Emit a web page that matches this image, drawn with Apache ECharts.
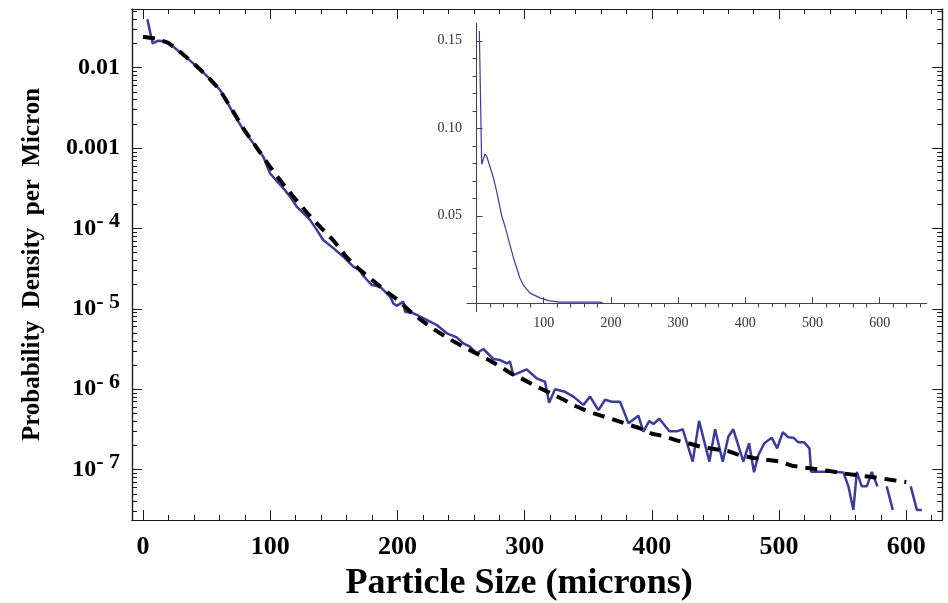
<!DOCTYPE html>
<html>
<head>
<meta charset="utf-8">
<script src="https://cdn.jsdelivr.net/npm/echarts@6/dist/echarts.min.js"></script>
<style>
  html, body { margin: 0; padding: 0; background: #fff; }
  #chart { width: 948px; height: 603px; }
</style>
</head>
<body>
<div id="chart"></div>
<script>
// measured histogram (main panel, log scale); null = empty bin
var sizeMain = [3.4, 7.6, 12, 17.3, 23.8, 31.7, 39.5, 47.4, 54, 60.5, 64.5, 71, 78.9, 86.7, 94.6, 99.8,
  110.3, 115.6, 120.8, 126, 131.3, 136.6, 141.7, 149.6, 157.5, 165.3, 170.6, 172.5, 179.8, 186.3, 194.2, 196.8,
  199.4, 204.6, 206, 212.5, 215.2, 223, 230.9, 238.8, 246.6, 251.8, 257, 262.3, 267.5, 275.4, 280.7, 285.9,
  288.5, 291.1, 301.6, 309.4, 316, 319.2, 323.9, 331.8, 338.3, 346.2, 351.4, 358, 363.2, 368.5, 375, 377.6,
  381.6, 389.4, 393.3, 398, 401.2, 405.9, 413.8, 419.6, 424.3, 432.1, 437.1, 445.2, 449.7, 455.7, 460.1, 464,
  471.9, 476.4, 480.3, 483.7, 488.4, 494.2, 498.5, 502.9, 507.3, 511.2, 515.2, 519.7, 523.9, 525.2, 540.1, 550.6,
  554.5, 558.4, 561.1, 565, 569, 572.9, 577.3, 581, 584.6, 589.4, 595, 603.5, 608.3, 612.2];
var densityMain = [0.040, 0.020, 0.0217, 0.0213, 0.0182, 0.0144, 0.0113, 0.00867, 0.00689, 0.00528, 0.00416, 0.00271, 0.00168, 0.00115, 0.00078, 0.000486,
  0.000316, 0.000249, 0.000187, 0.000155, 0.000128, 0.000096, 0.000072, 0.000057, 0.0000446, 0.0000335, 0.0000305, 0.0000265, 0.0000198, 0.0000189, 0.0000142, 0.0000117,
  0.0000109, 0.0000123, 0.0000092, 0.0000088, 0.0000084, 0.0000073, 0.0000063, 0.00000497, 0.00000443, 0.00000373, 0.00000339, 0.0000028, 0.00000317, 0.00000238, 0.00000231, 0.0000021,
  0.0000022, 0.0000015, 0.00000177, 0.00000137, 0.00000124, 0.00000068, 0.000001, 0.00000093, 0.00000081, 0.00000064, 0.00000081, 0.00000055, 0.00000074, 0.0000007, 0.0000007, 0.00000055,
  0.000000378, 0.00000047, 0.000000297, 0.000000404, 0.00000037, 0.00000043, 0.0000003, 0.0000003, 0.000000318, 0.000000126, 0.000000404, 0.000000126, 0.000000318, 0.000000126, 0.000000257, 0.000000318,
  0.000000126, 0.000000213, 0.000000093, 0.000000152, 0.000000213, 0.00000025, 0.000000184, 0.000000292, 0.000000253, 0.00000025, 0.000000219, 0.000000219, 0.000000184, 0.000000094, 0.000000094, 0.000000092,
  0.000000062, 0.0000000316, 0.000000094, 0.000000062, 0.000000062, 0.000000094, 0.000000062, null, 0.000000062, 0.0000000316, null, 0.000000062, 0.0000000316, 0.0000000316];

// fitted curve (dashed)
var sizeFit = [0, 10, 20, 30, 40, 50, 60, 70, 80, 90, 100, 110, 120, 130, 140, 150, 160, 170, 180, 190, 200,
  210, 220, 230, 240, 250, 260, 270, 280, 290, 300, 310, 320, 330, 340, 350, 360, 370, 380, 390, 400,
  410, 420, 430, 440, 450, 460, 470, 480, 490, 500, 510, 520, 530, 540, 550, 560, 570, 580, 590, 600];
var densityFit = [0.0243, 0.0230, 0.0203, 0.0153, 0.0112, 0.0080, 0.0054, 0.0030, 0.00165, 0.00098, 0.00058,
  0.00036, 0.00023, 0.000150, 0.000102, 0.000070, 0.000044, 0.000031, 0.000023, 0.0000170, 0.0000130,
  0.0000093, 0.0000070, 0.0000054, 0.0000043, 0.0000035, 0.0000029, 0.0000024, 0.00000195, 0.00000155, 0.0000013,
  0.00000107, 0.0000009, 0.00000075, 0.00000062, 0.00000053, 0.00000047, 0.00000042, 0.00000037, 0.00000033, 0.00000028,
  0.00000026, 0.00000023, 0.00000021, 0.00000019, 0.00000018, 0.00000017, 0.00000015, 0.00000014, 0.000000133, 0.000000127,
  0.000000112, 0.000000106, 0.000000101, 0.000000096, 0.00000009, 0.000000086, 0.000000082, 0.000000078, 0.000000074, 0.00000007];

// inset, linear scale
var sizeInset = [4.2, 7.7, 12.6, 15.2, 17.6, 25, 30, 37.5, 42.4, 54.8, 64.7, 69.7, 79.6, 82.1, 94.5, 99.4, 106.8, 124, 183.8, 188.7];
var densityInset = [0.1556, 0.0794, 0.0853, 0.0840, 0.0832, 0.0720, 0.0640, 0.0500, 0.0440, 0.0262, 0.0143, 0.0104, 0.0058, 0.0051, 0.0031, 0.0025, 0.0015, 0.0007, 0.0007, 0];

// ticks
var xMajor = [0, 100, 200, 300, 400, 500, 600];
var xMinor = [20, 40, 60, 80, 120, 140, 160, 180, 220, 240, 260, 280, 320, 340, 360, 380, 420, 440, 460, 480, 520, 540, 560, 580, 620];
var yMajor = [1e-7, 1e-6, 1e-5, 1e-4, 1e-3, 1e-2];
var yMinor = [3e-8, 4e-8, 5e-8, 6e-8, 7e-8, 8e-8, 9e-8,
  2e-7, 3e-7, 4e-7, 5e-7, 6e-7, 7e-7, 8e-7, 9e-7,
  2e-6, 3e-6, 4e-6, 5e-6, 6e-6, 7e-6, 8e-6, 9e-6,
  2e-5, 3e-5, 4e-5, 5e-5, 6e-5, 7e-5, 8e-5, 9e-5,
  2e-4, 3e-4, 4e-4, 5e-4, 6e-4, 7e-4, 8e-4, 9e-4,
  2e-3, 3e-3, 4e-3, 5e-3, 6e-3, 7e-3, 8e-3, 9e-3,
  2e-2, 3e-2, 4e-2, 5e-2];
var insetXLabels = [100, 200, 300, 400, 500, 600];
var insetXMajor = [0, 100, 200, 300, 400, 500, 600];
var insetXMinor = [20, 40, 60, 80, 120, 140, 160, 180, 220, 240, 260, 280, 320, 340, 360, 380, 420, 440, 460, 480, 520, 540, 560, 580, 620, 640, 660];
var insetYMajor = [0.05, 0.10, 0.15];
var insetYMinor = [0.01, 0.02, 0.03, 0.04, 0.06, 0.07, 0.08, 0.09, 0.11, 0.12, 0.13, 0.14];

var serif = 'Liberation Serif';
var frame = '#1a1a1a';
var blue = '#3c3c9c';

function pairs(xs, ys) {
  return xs.map(function (x, i) { return [x, ys[i] == null ? '-' : ys[i]]; });
}

function yLabel(v) {
  var e = Math.round(Math.log10(v));
  if (e === -2) return '0.01';
  if (e === -3) return '0.001';
  return '10{sup|- ' + (-e) + '}';
}

function mainX(pos, ticks, len, labels) {
  return {
    gridIndex: 0, type: 'value', position: pos, min: -8.65, max: 628.3,
    axisLine: { onZero: false, lineStyle: { color: frame, width: 1.2 } },
    splitLine: { show: false },
    axisTick: { inside: true, length: len, customValues: ticks, lineStyle: { color: frame, width: 1 } },
    axisLabel: labels ? {
      customValues: xMajor, margin: 14, color: '#000',
      fontFamily: serif, fontWeight: 'bold', fontSize: 26
    } : { show: false }
  };
}

function mainY(pos, ticks, len, labels) {
  return {
    gridIndex: 0, type: 'log', logBase: 10, position: pos, min: 2.366e-8, max: 0.0537,
    axisLine: { onZero: false, lineStyle: { color: frame, width: 1.2 } },
    splitLine: { show: false }, minorTick: { show: false },
    axisTick: { inside: true, length: len, customValues: ticks, lineStyle: { color: frame, width: 1 } },
    axisLabel: labels ? {
      customValues: yMajor, margin: 12, color: '#000', formatter: yLabel,
      fontFamily: serif, fontWeight: 'bold', fontSize: 24,
      rich: { sup: { fontFamily: serif, fontWeight: 'bold', fontSize: 22, padding: [0, 0, 14, 0] } }
    } : { show: false }
  };
}

var insetText = { fontFamily: serif, fontSize: 14, color: '#333' };

var chart = echarts.init(document.getElementById('chart'));
chart.setOption({
  animation: false,
  backgroundColor: '#fff',
  grid: [
    { left: 132, top: 9, right: 5.7, bottom: 83, outerBoundsMode: 'none', containLabel: false },
    { left: 467.1, top: 23.3, width: 459.6, height: 288.4, outerBoundsMode: 'none', containLabel: false }
  ],
  xAxis: [
    Object.assign(mainX('bottom', xMajor, 10, true), {
      name: 'Particle Size (microns)', nameLocation: 'middle', nameGap: 46,
      nameTextStyle: { fontFamily: serif, fontWeight: 'bold', fontSize: 36, color: '#000', padding: [0, 36, 0, 0] }
    }),
    mainX('bottom', xMinor, 5, false),
    mainX('top', xMajor, 10, false),
    mainX('top', xMinor, 5, false),
    {
      gridIndex: 1, type: 'value', min: -14, max: 670,
      axisLine: { onZero: true, lineStyle: { color: '#444', width: 1 } },
      splitLine: { show: false },
      axisTick: { inside: true, length: 6, customValues: insetXMajor, lineStyle: { color: '#444' } },
      axisLabel: Object.assign({ customValues: insetXLabels, margin: 5 }, insetText)
    },
    {
      gridIndex: 1, type: 'value', min: -14, max: 670,
      axisLine: { onZero: true, lineStyle: { color: '#444', width: 1 } },
      splitLine: { show: false },
      axisTick: { inside: true, length: 4, customValues: insetXMinor, lineStyle: { color: '#444' } },
      axisLabel: { show: false }
    }
  ],
  yAxis: [
    Object.assign(mainY('left', yMajor, 10, true), {
      name: 'Probability  Density  per  Micron', nameLocation: 'middle', nameGap: 87,
      nameTextStyle: { fontFamily: serif, fontWeight: 'bold', fontSize: 25, color: '#000' }
    }),
    mainY('left', yMinor, 5, false),
    mainY('right', yMajor, 10, false),
    mainY('right', yMinor, 5, false),
    {
      gridIndex: 1, type: 'value', min: -0.0048, max: 0.160,
      axisLine: { onZero: true, lineStyle: { color: '#444', width: 1 } },
      splitLine: { show: false },
      axisTick: { inside: true, length: 6, customValues: insetYMajor, lineStyle: { color: '#444' } },
      axisLabel: Object.assign({
        customValues: insetYMajor, margin: 5,
        formatter: function (v) { return v.toFixed(2); }
      }, insetText)
    },
    {
      gridIndex: 1, type: 'value', min: -0.0048, max: 0.160,
      axisLine: { onZero: true, lineStyle: { color: '#444', width: 1 } },
      splitLine: { show: false },
      axisTick: { inside: true, length: 4, customValues: insetYMinor, lineStyle: { color: '#444' } },
      axisLabel: { show: false }
    }
  ],
  series: [
    {
      name: 'data', type: 'line', xAxisIndex: 0, yAxisIndex: 0,
      data: pairs(sizeMain, densityMain), showSymbol: false, connectNulls: false,
      lineStyle: { color: blue, width: 2.5 }, z: 3
    },
    {
      name: 'fit', type: 'line', xAxisIndex: 0, yAxisIndex: 0,
      data: pairs(sizeFit, densityFit), showSymbol: false,
      lineStyle: { color: '#000', width: 4, type: [12, 8] }, z: 4
    },
    {
      name: 'inset', type: 'line', xAxisIndex: 4, yAxisIndex: 4,
      data: pairs(sizeInset, densityInset), showSymbol: false,
      lineStyle: { color: blue, width: 1.2 }, z: 5
    }
  ]
});
</script>
</body>
</html>
